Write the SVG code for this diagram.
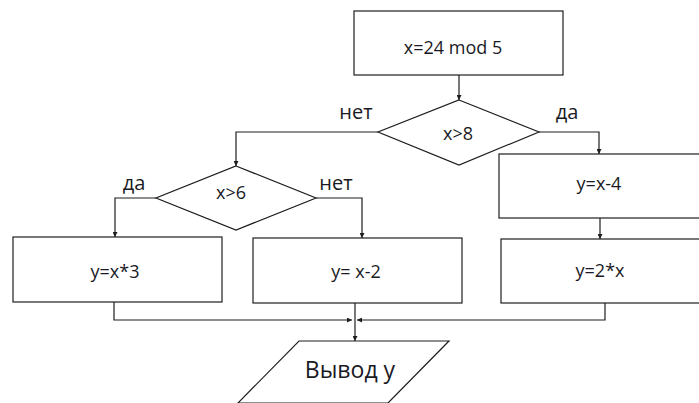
<svg xmlns="http://www.w3.org/2000/svg" width="699" height="403" viewBox="0 0 699 403">
  <style>
    .shape { fill: #ffffff; stroke: #1e1e1e; stroke-width: 1.2; }
    .wire { fill: none; stroke: #1e1e1e; stroke-width: 1.2; }
    .lbl { font-family: "Open Sans", "DejaVu Sans", sans-serif; font-size: 18px; fill: #1a1a24; text-anchor: middle; }
    .branch { font-size: 20px; }
  </style>
  <defs>
    <marker id="arrow" viewBox="0 0 10 10" refX="10" refY="5" markerWidth="5" markerHeight="5" orient="auto" markerUnits="userSpaceOnUse">
      <path d="M0,0 L10,5 L0,10 Z" fill="#1e1e1e"/>
    </marker>
  </defs>
  <rect width="699" height="403" fill="#ffffff"/>

  <g id="connectors">
    <path class="wire" d="M459,75 V100" marker-end="url(#arrow)"/>
    <path class="wire" d="M378,132 H236 V166" marker-end="url(#arrow)"/>
    <path class="wire" d="M539,132 H599 V154" marker-end="url(#arrow)"/>
    <path class="wire" d="M156,198 H115 V237" marker-end="url(#arrow)"/>
    <path class="wire" d="M316,198 H362 V238" marker-end="url(#arrow)"/>
    <path class="wire" d="M600,218 V239" marker-end="url(#arrow)"/>
    <path class="wire" d="M114,302 V320 H352" marker-end="url(#arrow)"/>
    <path class="wire" d="M605,303 V320 H357" marker-end="url(#arrow)"/>
    <path class="wire" d="M355,303 V341" marker-end="url(#arrow)"/>
    <text class="lbl branch" x="356" y="119">нет</text>
    <text class="lbl branch" x="567" y="119">да</text>
    <text class="lbl branch" x="134" y="190">да</text>
    <text class="lbl branch" x="336" y="190">нет</text>
  </g>

  <g id="init">
    <rect class="shape" x="354" y="11" width="209" height="64"/>
    <text class="lbl" x="453" y="54">x=24 mod 5</text>
  </g>

  <g id="cond-gt8">
    <polygon class="shape" points="459,100 539,132 459,165 378,132"/>
    <text class="lbl" x="458" y="140">x&gt;8</text>
  </g>

  <g id="cond-gt6">
    <polygon class="shape" points="236,166 316,198 236,230 156,198"/>
    <text class="lbl" x="231" y="199">x&gt;6</text>
  </g>

  <g id="calc-x3">
    <rect class="shape" x="13" y="237" width="209" height="65"/>
    <text class="lbl" x="115" y="278">y=x*3</text>
  </g>

  <g id="calc-minus2">
    <rect class="shape" x="253" y="238" width="209" height="65"/>
    <text class="lbl" x="356" y="278">y= x-2</text>
  </g>

  <g id="calc-minus4">
    <rect class="shape" x="499" y="154" width="210" height="64"/>
    <text class="lbl" x="599" y="190">y=x-4</text>
  </g>

  <g id="calc-2x">
    <rect class="shape" x="501" y="239" width="210" height="64"/>
    <text class="lbl" x="600" y="277">y=2*x</text>
  </g>

  <g id="output">
    <polygon class="shape" points="299,341 449,341 388,403 238,403"/>
    <text class="lbl" x="350" y="378" style="font-size:23px">Вывод y</text>
  </g>
</svg>
